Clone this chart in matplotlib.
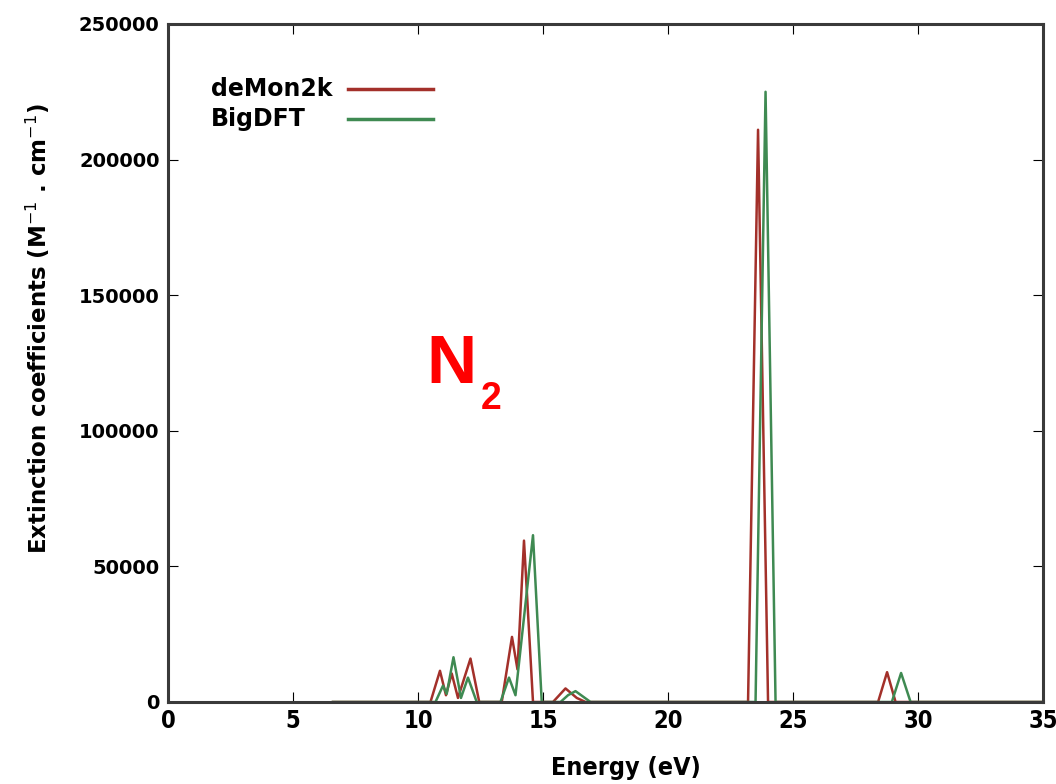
import matplotlib
matplotlib.use("Agg")
import matplotlib.pyplot as plt

# spectrum vertices (energy in eV, extinction in M^-1 cm^-1)
red_e = [6.6, 10.5, 10.88, 11.12, 11.35, 11.6, 12.1, 12.45, 13.35, 13.76, 13.98,
         14.24, 14.6, 15.4, 15.9, 16.35, 16.7, 23.2, 23.6, 24.0, 28.4, 28.76, 29.1, 35.0]
red_v = [0, 0, 11500, 2500, 10500, 1500, 16000, 0, 0, 24000, 12000,
         59500, 0, 0, 5000, 1500, 0, 0, 211000, 0, 0, 11000, 0, 0]

green_e = [6.6, 10.7, 11.0, 11.15, 11.42, 11.72, 12.0, 12.35, 13.3, 13.64, 13.9,
           14.6, 14.95, 15.7, 16.0, 16.3, 16.6, 16.9, 23.5, 23.9, 24.3, 28.95, 29.32, 29.7, 35.0]
green_v = [0, 0, 6000, 3000, 16500, 1500, 9000, 0, 0, 9000, 2500,
           61500, 0, 0, 2500, 4000, 2000, 0, 0, 225000, 0, 0, 10700, 0, 0]

x_ticks = [0, 5, 10, 15, 20, 25, 30, 35]
y_ticks = [0, 50000, 100000, 150000, 200000, 250000]

plt.rcParams['font.family'] = ['DejaVu Sans']

fig = plt.figure(figsize=(10.56, 7.84), dpi=100)
ax = fig.add_axes([0.159, 0.1046, 0.8288, 0.8648])

ax.plot(red_e, red_v, color='#a3302a', lw=1.8)
ax.plot(green_e, green_v, color='#3f8a52', lw=1.8)

ax.set_xlim(0, 35)
ax.set_ylim(0, 250000)
ax.set_xticks(x_ticks)
ax.set_yticks(y_ticks)
ax.tick_params(direction='in', length=7, top=True, right=True, colors='black')
ax.tick_params(axis='y', labelsize=14, pad=6)
ax.tick_params(axis='x', labelsize=17, pad=5)
for lab in ax.get_yticklabels():
    lab.set_fontweight('bold')
for lab in ax.get_xticklabels():
    lab.set_fontweight('bold')
    lab.set_fontstretch('condensed')
for s in ax.spines.values():
    s.set_linewidth(2.2)
    s.set_color('#3a3a3a')

ax.set_xlabel('Energy (eV)', fontsize=18, fontweight='bold', fontstretch='condensed')
ax.xaxis.set_label_coords(0.523, -0.08)
ax.set_ylabel('Extinction coefficients (M$^{-1}$ . cm$^{-1}$)', fontsize=16.5,
              fontweight='bold')
ax.yaxis.set_label_coords(-0.133, 0.55)

# legend, gnuplot style: label first, line after
ax.text(0.049, 0.904, 'deMon2k', transform=ax.transAxes, fontsize=17,
        fontweight='bold', va='center', ha='left')
ax.text(0.049, 0.860, 'BigDFT', transform=ax.transAxes, fontsize=17,
        fontweight='bold', va='center', ha='left')
ax.plot([0.206, 0.303], [0.904, 0.904], transform=ax.transAxes, color='#a3302a', lw=2.5)
ax.plot([0.206, 0.303], [0.860, 0.860], transform=ax.transAxes, color='#3f8a52', lw=2.5)

# molecule label
ax.text(10.35, 117500, 'N', color='#ff0000', fontsize=50, fontweight='bold',
        family=['Liberation Sans', 'DejaVu Sans'])
ax.text(12.5, 108000, '2', color='#ff0000', fontsize=27, fontweight='bold',
        family=['Liberation Sans', 'DejaVu Sans'])

fig.savefig('out.png', dpi=100)
